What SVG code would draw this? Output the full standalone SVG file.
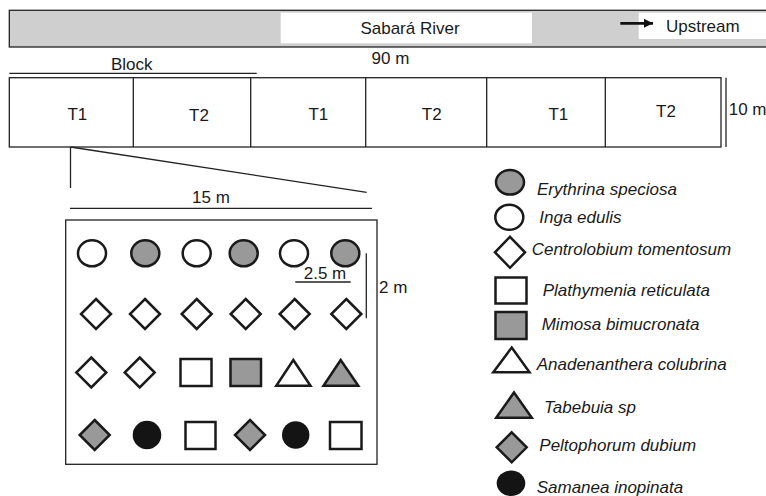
<svg xmlns="http://www.w3.org/2000/svg" width="766" height="496" viewBox="0 0 766 496">
  <defs>
    <style>
      .t { font-family: "Liberation Sans", Arial, sans-serif; font-size: 17px; fill: #1a1a1a; }
      .it { font-family: "Liberation Sans", Arial, sans-serif; font-size: 17px; font-style: italic; fill: #1a1a1a; }
      .mid { text-anchor: middle; }
      .ln { stroke: #222; stroke-width: 1.3; fill: none; }
      .sym { stroke: #1a1a1a; stroke-width: 2.5; stroke-linejoin: miter; }
      .w { fill: #ffffff; }
      .g { fill: #999999; }
      .k { fill: #141414; }
    </style>
    <marker id="arrowHead" viewBox="0 0 9 9" refX="9" refY="4.5" markerWidth="9" markerHeight="9" orient="auto" markerUnits="userSpaceOnUse">
      <path d="M0,0 L9,4.5 L0,9 Z" fill="#111"/>
    </marker>
    <!-- plot symbols, centred on 0,0 -->
    <ellipse id="circ" rx="14" ry="13"/>
    <path id="dia" d="M0,-15 L15,0 L0,15 L-15,0 Z"/>
  </defs>

  <rect width="766" height="496" fill="#ffffff"/>

  <!-- river band -->
  <g id="river">
    <rect x="9.3" y="10.3" width="760" height="36.7" fill="#cfcfcf" stroke="#222" stroke-width="1.3"/>
    <rect x="280.7" y="12.7" width="251.3" height="30.6" fill="#ffffff"/>
    <text class="t mid" x="410" y="34.3" font-size="17.5">Sabará River</text>
    <rect x="638.7" y="12.7" width="130" height="26.3" fill="#ffffff"/>
    <line x1="620.3" y1="23.3" x2="653" y2="23.3" stroke="#111" stroke-width="2.8" marker-end="url(#arrowHead)"/>
    <text class="t" x="666" y="31.7" font-size="17.5">Upstream</text>
  </g>

  <!-- field strip with treatments -->
  <g id="field">
    <text class="t mid" x="131.7" y="70">Block</text>
    <line class="ln" x1="9.3" y1="73.3" x2="256.7" y2="73.3"/>
    <text class="t mid" x="390.5" y="64.3">90 m</text>
    <rect class="ln" x="9.3" y="77.7" width="711.7" height="69.3"/>
    <line class="ln" x1="133.3" y1="77.7" x2="133.3" y2="147"/>
    <line class="ln" x1="250.7" y1="77.7" x2="250.7" y2="147"/>
    <line class="ln" x1="365.7" y1="77.7" x2="365.7" y2="147"/>
    <line class="ln" x1="486.7" y1="77.7" x2="486.7" y2="147"/>
    <line class="ln" x1="605.3" y1="77.7" x2="605.3" y2="147"/>
    <text class="t mid" x="77.3" y="120">T1</text>
    <text class="t mid" x="199" y="120.7">T2</text>
    <text class="t mid" x="318.3" y="120">T1</text>
    <text class="t mid" x="431.7" y="120">T2</text>
    <text class="t mid" x="558.3" y="120">T1</text>
    <text class="t mid" x="666" y="116.7">T2</text>
    <line class="ln" x1="726" y1="77.7" x2="726" y2="147"/>
    <text class="t" x="728.7" y="115">10 m</text>
  </g>

  <!-- enlargement of one treatment plot -->
  <g id="zoom-lines">
    <line class="ln" x1="70.5" y1="147" x2="70.5" y2="188"/>
    <line class="ln" x1="70.5" y1="147" x2="366.7" y2="192.3"/>
  </g>

  <g id="plot">
    <text class="t mid" x="211" y="202.7">15 m</text>
    <line class="ln" x1="70" y1="208.3" x2="372" y2="208.3"/>
    <rect class="ln" x="65.7" y="220" width="311.3" height="244.3"/>
    <text class="t mid" x="325" y="279">2.5 m</text>
    <line class="ln" x1="295.3" y1="282" x2="350.7" y2="282"/>
    <line class="ln" x1="366.3" y1="253.3" x2="366.3" y2="318.3"/>
    <text class="t" x="379" y="293">2 m</text>

    <!-- row 1 -->
    <g id="row1">
      <use href="#circ" class="sym w" x="92" y="253.3"/>
      <use href="#circ" class="sym g" x="145.3" y="253.3"/>
      <use href="#circ" class="sym w" x="196.7" y="253.3"/>
      <use href="#circ" class="sym g" x="243.7" y="253.3"/>
      <use href="#circ" class="sym w" x="294" y="253.3"/>
      <use href="#circ" class="sym g" x="345.3" y="253.3"/>
    </g>
    <!-- row 2 -->
    <g id="row2">
      <use href="#dia" class="sym w" x="96" y="314"/>
      <use href="#dia" class="sym w" x="145" y="314"/>
      <use href="#dia" class="sym w" x="196.7" y="314"/>
      <use href="#dia" class="sym w" x="245.7" y="314"/>
      <use href="#dia" class="sym w" x="294.7" y="314"/>
      <use href="#dia" class="sym w" x="346.3" y="314"/>
    </g>
    <!-- row 3 -->
    <g id="row3">
      <use href="#dia" class="sym w" x="91.3" y="372.5"/>
      <use href="#dia" class="sym w" x="139.7" y="372.5"/>
      <rect class="sym w" x="180.5" y="359" width="31" height="27"/>
      <rect class="sym g" x="230.5" y="359" width="30.5" height="27"/>
      <path class="sym w" d="M293.3,360 L310.5,385.7 L276.3,385.7 Z"/>
      <path class="sym g" d="M340.7,360 L358.3,385.7 L323.5,385.7 Z"/>
    </g>
    <!-- row 4 -->
    <g id="row4">
      <use href="#dia" class="sym g" x="94.7" y="435"/>
      <circle class="k" cx="147" cy="435" r="14.3"/>
      <rect class="sym w" x="185.5" y="422" width="30" height="27"/>
      <use href="#dia" class="sym g" x="250" y="435"/>
      <circle class="k" cx="295.7" cy="435" r="13.7"/>
      <rect class="sym w" x="330" y="422" width="31.5" height="27"/>
    </g>
  </g>

  <!-- species legend -->
  <g id="legend">
    <g id="lg-erythrina">
      <ellipse class="sym g" cx="510" cy="182.3" rx="14" ry="12.3"/>
      <text class="it" x="537" y="195">Erythrina speciosa</text>
    </g>
    <g id="lg-inga">
      <ellipse class="sym w" cx="509.3" cy="217.3" rx="14" ry="12.5"/>
      <text class="it" x="539.3" y="223.3">Inga edulis</text>
    </g>
    <g id="lg-centrolobium">
      <path class="sym w" d="M510,236.8 L525,252.3 L510,267.8 L495,252.3 Z"/>
      <text class="it" x="531.7" y="255">Centrolobium tomentosum</text>
    </g>
    <g id="lg-plathymenia">
      <rect class="sym w" x="495.5" y="277.5" width="31" height="26"/>
      <text class="it" x="542.7" y="296">Plathymenia reticulata</text>
    </g>
    <g id="lg-mimosa">
      <rect class="sym g" x="495.5" y="312" width="31" height="27"/>
      <text class="it" x="541.7" y="330">Mimosa bimucronata</text>
    </g>
    <g id="lg-anadenanthera">
      <path class="sym w" d="M511.7,347.5 L529.5,372.3 L493.3,372.3 Z"/>
      <text class="it" x="536.7" y="370">Anadenanthera colubrina</text>
    </g>
    <g id="lg-tabebuia">
      <path class="sym g" d="M514,392.5 L531.8,417.7 L496.2,417.7 Z"/>
      <text class="it" x="544" y="413.3">Tabebuia sp</text>
    </g>
    <g id="lg-peltophorum">
      <path class="sym g" d="M511.7,432.3 L526.7,447.3 L511.7,462.3 L496.7,447.3 Z"/>
      <text class="it" x="539.3" y="450.7">Peltophorum dubium</text>
    </g>
    <g id="lg-samanea">
      <ellipse class="k" cx="511" cy="483.3" rx="14.3" ry="12.7"/>
      <text class="it" x="536.7" y="493.3">Samanea inopinata</text>
    </g>
  </g>
</svg>
